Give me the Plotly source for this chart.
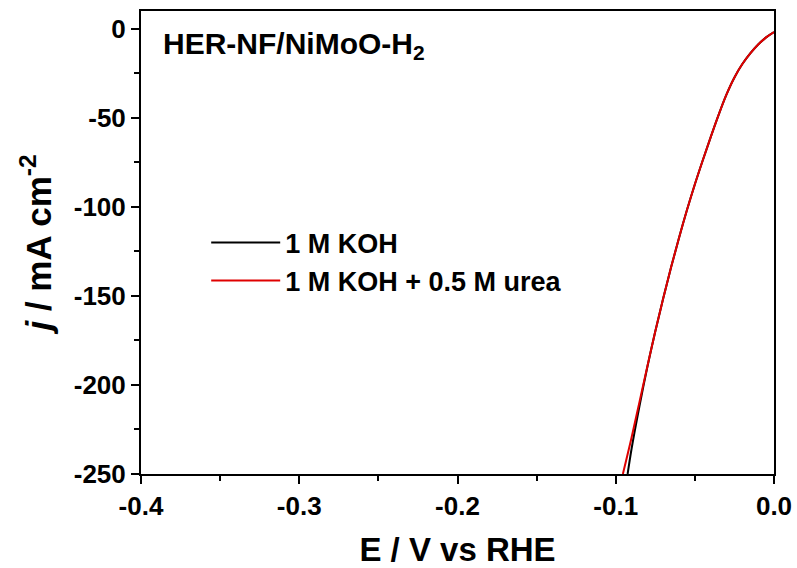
import plotly.graph_objects as go

# Data (E in V vs RHE, j in mA cm^-2)
E_koh = [0.0, -0.005, -0.010, -0.015, -0.020, -0.025, -0.030, -0.035, -0.040, -0.045,
         -0.050, -0.055, -0.060, -0.065, -0.070, -0.075, -0.080, -0.085, -0.090, -0.0925]
j_koh = [-1.8, -4.8, -8.8, -13.8, -19.8, -27.3, -36.8, -48.3, -60.8, -73.8,
         -87.3, -101.8, -117.3, -133.8, -151.3, -169.8, -189.8, -211.8, -235.8, -250.0]

E_urea = [0.0, -0.005, -0.010, -0.015, -0.020, -0.025, -0.030, -0.035, -0.040, -0.045,
          -0.050, -0.055, -0.060, -0.065, -0.070, -0.075, -0.080, -0.085, -0.090, -0.0955]
j_urea = [-1.8, -4.8, -8.8, -13.8, -19.8, -27.3, -36.8, -48.3, -60.8, -73.8,
          -87.3, -101.8, -117.3, -133.8, -151.3, -169.8, -189.5, -209.5, -229.5, -250.0]

series_names = ["1 M KOH", "1 M KOH + 0.5 M urea"]
x_ticks = [-0.4, -0.3, -0.2, -0.1, 0.0]
x_tick_labels = ["-0.4", "-0.3", "-0.2", "-0.1", "0.0"]
y_ticks = [0, -50, -100, -150, -200, -250]
y_tick_labels = ["0", "-50", "-100", "-150", "-200", "-250"]

FONT = "Liberation Sans, Arial, sans-serif"

fig = go.Figure()
fig.add_trace(go.Scatter(x=E_koh, y=j_koh, mode="lines", name=series_names[0],
                         line=dict(color="black", width=2, shape="spline", smoothing=1.0)))
fig.add_trace(go.Scatter(x=E_urea, y=j_urea, mode="lines", name=series_names[1],
                         line=dict(color="#e00000", width=2, shape="spline", smoothing=1.0)))

axis_common = dict(
    showline=True, linecolor="black", linewidth=2, mirror=True,
    ticks="outside", ticklen=8, tickwidth=2, tickcolor="black",
    showgrid=False, zeroline=False, automargin=False,
    tickfont=dict(family=FONT, size=26, color="black", weight="bold"),
)

fig.update_xaxes(
    range=[-0.4, 0.0], tickvals=x_ticks, ticktext=x_tick_labels,
    minor=dict(dtick=0.05, ticks="outside", ticklen=5, tickwidth=2, tickcolor="black"),
    title=dict(text="E / V vs RHE", font=dict(family=FONT, size=33, color="black", weight="bold"),
               standoff=20),
    **axis_common,
)
fig.update_yaxes(
    range=[-250, 10], tickvals=y_ticks, ticktext=y_tick_labels,
    minor=dict(dtick=25, ticks="outside", ticklen=5, tickwidth=2, tickcolor="black"),
    title=dict(text="<i>j</i> / mA cm<sup>-2</sup>",
               font=dict(family=FONT, size=35, color="black", weight="bold"), standoff=12),
    **axis_common,
)

fig.add_annotation(
    x=0.032, y=0.925, xref="paper", yref="paper", xanchor="left", yanchor="middle",
    text="HER-NF/NiMoO-H<sub>2</sub>", showarrow=False,
    font=dict(family=FONT, size=30, color="black", weight="bold"),
)

fig.update_layout(
    width=797, height=568,
    margin=dict(l=141, r=23, t=11, b=94),
    paper_bgcolor="white", plot_bgcolor="white",
    showlegend=True,
    legend=dict(x=0.103, y=0.458, xanchor="left", yanchor="middle",
                bgcolor="rgba(0,0,0,0)", tracegroupgap=0, itemwidth=69,
                font=dict(family=FONT, size=27, color="black", weight="bold")),
)

fig.write_html("out.html")
